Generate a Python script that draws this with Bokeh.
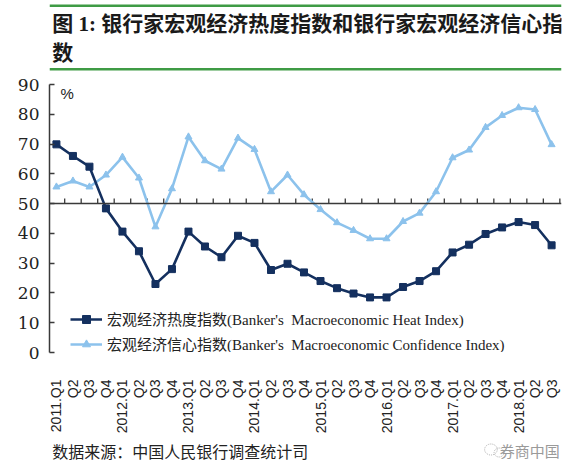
from bokeh.plotting import figure
from bokeh.layouts import column
from bokeh.models import (Range1d, Span, Label, Legend, LegendItem,
                          FixedTicker, ColumnDataSource)
from bokeh.core.properties import value
from bokeh.embed import file_html
from bokeh.resources import INLINE

# ---------------- data ----------------
quarters = ["2011.Q1", "Q2", "Q3", "Q4",
            "2012.Q1", "Q2", "Q3", "Q4",
            "2013.Q1", "Q2", "Q3", "Q4",
            "2014.Q1", "Q2", "Q3", "Q4",
            "2015.Q1", "Q2", "Q3", "Q4",
            "2016.Q1", "Q2", "Q3", "Q4",
            "2017.Q1", "Q2", "Q3", "Q4",
            "2018.Q1", "Q2", "Q3"]
heat_index = [69.9, 66.0, 62.4, 48.4, 40.6, 34.0, 23.0, 28.0,
              40.6, 35.6, 32.0, 39.2, 36.8, 27.7, 29.8, 26.9,
              24.0, 21.6, 19.8, 18.5, 18.5, 22.0, 24.0, 27.3,
              33.6, 36.2, 39.8, 42.0, 43.8, 42.8, 36.0]
confidence_index = [55.6, 57.6, 55.6, 59.6, 65.6, 58.6, 42.2, 55.0,
                    72.4, 64.4, 61.6, 72.0, 68.2, 54.0, 59.6, 53.0,
                    48.0, 43.6, 41.0, 38.2, 38.2, 44.0, 46.8, 54.0,
                    65.4, 68.0, 75.6, 79.6, 82.2, 81.6, 69.8]
y_ticks = [0, 10, 20, 30, 40, 50, 60, 70, 80, 90]
baseline = 50

title_line1 = "图 1: 银行家宏观经济热度指数和银行家宏观经济信心指"
title_line2 = "数"
heat_name = "宏观经济热度指数(Banker's  Macroeconomic Heat Index)"
conf_name = "宏观经济信心指数(Banker's  Macroeconomic Confidence Index)"
source_text = "数据来源：中国人民银行调查统计司"
watermark = "券商中国"

# ---------------- styling ----------------
DARK = "#14305f"
LIGHT = "#8cc2ec"
GREEN = "#3f9b45"
AXIS = "#3a3a3a"
SERIF = "'Liberation Serif', 'Noto Sans CJK SC'"

W = 566
HEAD_H, CHART_H, FOOT_H = 76, 360, 26
FRAME_TOP, FRAME_H = 8, 270


def blank(height):
    """A figure whose frame fills the whole canvas, y measured downward in px."""
    f = figure(width=W, height=height, output_backend="svg", toolbar_location=None,
               x_range=Range1d(0, W), y_range=Range1d(height, 0),
               x_axis_type=None, y_axis_type=None,
               min_border=0, min_border_left=0, min_border_right=0,
               min_border_top=0, min_border_bottom=0)
    f.outline_line_color = None
    f.xgrid.visible = False
    f.ygrid.visible = False
    f.background_fill_color = "white"
    f.border_fill_color = "white"
    return f


# ---------------- header ----------------
head = blank(HEAD_H)
head.quad(left=[0, 0], right=[W, W], top=[4, 67.5], bottom=[6.5, 70],
          fill_color=GREEN, line_color=None)
head.text(x=[3, 3], y=[23.5, 52], text=[title_line1, title_line2],
          text_font=value(SERIF), text_font_style="bold", text_font_size="21px",
          text_color="#1a1a1a", text_baseline="middle", text_align="left")

# ---------------- chart ----------------
n = len(quarters)
xs = list(range(n))

p = figure(width=W, height=CHART_H, output_backend="svg", toolbar_location=None,
           x_range=Range1d(-0.42, n - 0.4), y_range=Range1d(0, 90),
           min_border_left=49, min_border_top=FRAME_TOP,
           min_border_right=5, min_border_bottom=CHART_H - FRAME_TOP - FRAME_H)
p.outline_line_color = None
p.xgrid.visible = False
p.ygrid.visible = False
p.background_fill_color = "white"
p.border_fill_color = "white"

# y axis
p.yaxis.ticker = FixedTicker(ticks=y_ticks)
p.yaxis.minor_tick_line_color = None
p.yaxis.major_tick_in = 5
p.yaxis.major_tick_out = 0
p.yaxis.axis_line_color = AXIS
p.yaxis.axis_line_width = 1.5
p.yaxis.major_tick_line_color = AXIS
p.yaxis.major_tick_line_width = 1.5
p.yaxis.major_label_text_font = "DejaVu Serif"
p.yaxis.major_label_text_font_size = "17px"
p.yaxis.major_label_text_color = "#222222"
p.yaxis.major_label_standoff = 10

# x axis: labels only, at the bottom
p.xaxis.ticker = FixedTicker(ticks=xs)
p.xaxis.major_label_overrides = {i: q for i, q in enumerate(quarters)}
p.xaxis.major_label_orientation = 3.14159265 / 2
p.xaxis.axis_line_color = None
p.xaxis.major_tick_line_color = None
p.xaxis.minor_tick_line_color = None
p.xaxis.major_label_text_font = "Liberation Sans"
p.xaxis.major_label_text_font_size = "14px"
p.xaxis.major_label_text_color = "#222222"
p.xaxis.major_label_standoff = 21

# horizontal reference axis at 50 with ticks on category boundaries
p.add_layout(Span(location=baseline, dimension="width", line_color=AXIS, line_width=1.5))
bounds = [i + 0.5 for i in xs]
p.segment(x0=bounds, y0=[baseline] * n, x1=bounds, y1=[baseline + 1.7] * n,
          line_color=AXIS, line_width=1.3)

# series
src = ColumnDataSource(dict(x=xs, heat=heat_index, conf=confidence_index))
cl = p.line("x", "conf", source=src, line_color=LIGHT, line_width=2.6)
cm = p.scatter("x", "conf", source=src, marker="triangle", size=7,
               fill_color=LIGHT, line_color=LIGHT)
hl = p.line("x", "heat", source=src, line_color=DARK, line_width=2.6)
hm = p.scatter("x", "heat", source=src, marker="square", size=7,
               fill_color=DARK, line_color=DARK)

legend = Legend(items=[LegendItem(label=heat_name, renderers=[hl, hm]),
                       LegendItem(label=conf_name, renderers=[cl, cm])],
                location=(21, -2), orientation="vertical")
legend.border_line_color = None
legend.background_fill_alpha = 0
legend.padding = 0
legend.margin = 0
legend.spacing = 4
legend.label_height = 20
legend.glyph_height = 20
legend.glyph_width = 32
legend.label_standoff = 5
legend.label_text_font = SERIF
legend.label_text_font_size = "15px"
legend.label_text_color = "#222222"
p.add_layout(legend, "center")

# "%" unit label, just inside the top-left of the plot
p.add_layout(Label(x=0.24, y=87, text="%", text_font="Liberation Sans",
                   text_font_size="15px", text_color="#222222",
                   text_baseline="middle", text_align="left"))

# ---------------- footer ----------------
foot = blank(FOOT_H)
foot.text(x=[3], y=[14], text=[source_text], text_font=value("Noto Sans CJK SC"),
          text_font_size="16px", text_color="#222222",
          text_baseline="middle", text_align="left")
# small wechat-like logo mark next to the watermark
foot.ellipse(x=[488, 497], y=[13, 16], width=[14, 11], height=[11, 9],
             fill_color=None, line_color="#b0b0b0", line_width=1, line_dash="1 1")
foot.text(x=[564], y=[14], text=[watermark], text_font=value("Noto Sans CJK SC"),
          text_font_size="15px", text_color="#9a9a9a",
          text_baseline="middle", text_align="right")

layout = column(head, p, foot, spacing=0)
open("out.html", "w").write(file_html(layout, INLINE))
